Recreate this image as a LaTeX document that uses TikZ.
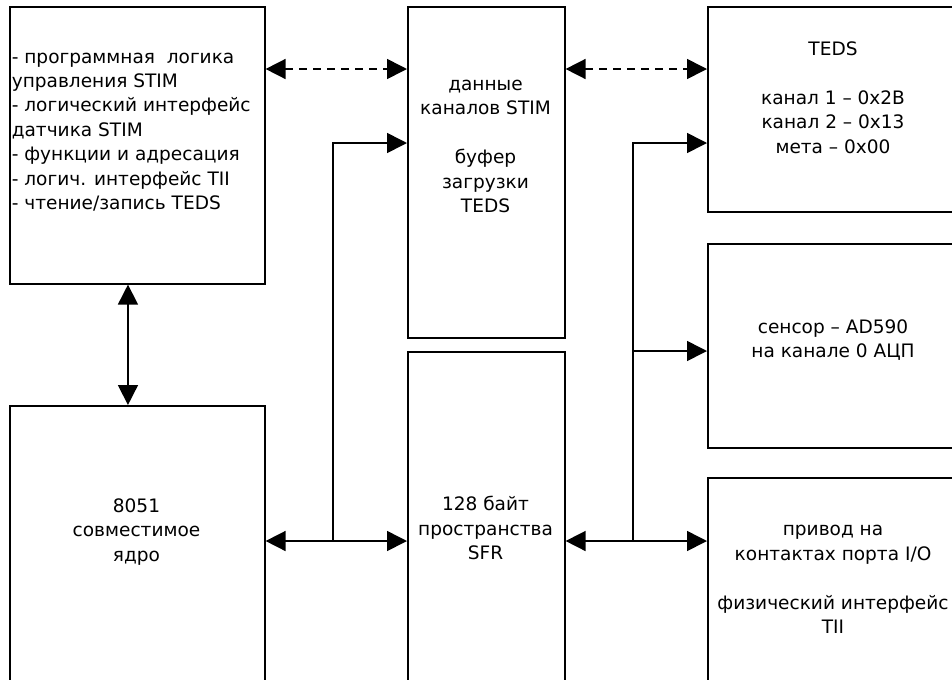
\documentclass[tikz,border=0pt]{standalone}
\usepackage{fontspec}
\setmainfont{DejaVu Sans}
\usetikzlibrary{arrows.meta,calc}

\begin{document}
\begin{tikzpicture}[x=0.75pt,y=-0.75pt,line width=1.2pt,
  blok/.style={draw, rectangle, anchor=north west, inner sep=0pt},
  txt/.style={align=center, font=\fontsize{13.9}{18.3}\selectfont, inner sep=0pt},
  >={Triangle[length=15pt,width=15pt]}]
\useasboundingbox (0,0) rectangle (952,679);
\clip (0,0) rectangle (952,679);
\foreach \n/\x/\y/\w/\h in {stim/9/6/191.25/207.75, core/9/405/191.25/225,
  chan/407/6/117.75/248.25, sfr/407/351/117.75/262.5,
  teds/707/6/195/153.75, sens/707/243/195/153, port/707/477/195/187.5}{
\node[blok, minimum width=\w pt, minimum height=\h pt] (\n) at (\x,\y) {};}
\node[txt, align=left, anchor=west] (stimtxt) at (11,132) {- программная\ \ логика\\управления STIM\\- логический интерфейс\\датчика STIM\\- функции и адресация\\- логич. интерфейс TII\\- чтение/запись TEDS};
\node[txt] (coretxt) at (136.5,532) {8051\\совместимое\\ядро};
\node[txt] (chantxt) at (485.5,146.5) {данные\\каналов STIM\\[18.3pt]буфер\\загрузки\\TEDS};
\node[txt] (sfrtxt) at (485.5,528) {128 байт\\пространства\\SFR};
\node[txt] (tedstxt) at (833,97.5) {TEDS\\[18.3pt]канал 1 – 0x2B\\канал 2 – 0x13\\мета – 0x00};
\node[txt] (senstxt) at (833,340) {сенсор – AD590\\на канале 0 АЦП};
\node[txt] (porttxt) at (833,579.5) {привод на\\контактах порта I/O\\[18.3pt]физический интерфейс\\TII};
\coordinate (topbus) at (0,69);
\coordinate (upbus) at (0,143);
\coordinate (midbus) at (0,351);
\coordinate (lowbus) at (0,541);
\coordinate (lj) at (333,541);
\coordinate (rj) at (633,541);
\draw[<->, dash pattern=on 6pt off 4.5pt] (stim.east |- topbus) -- (chan.west |- topbus);
\draw[<->, dash pattern=on 6pt off 4.5pt] (chan.east |- topbus) -- (teds.west |- topbus);
\draw[<->] ([xshift=-7pt]stim.south) -- ([xshift=-7pt]core.north);
\draw[<->] (core.east |- lowbus) -- (sfr.west |- lowbus);
\draw[->] (lj) |- (chan.west |- upbus);
\draw[<->] (sfr.east |- lowbus) -- (port.west |- lowbus);
\draw[->] (rj) |- (teds.west |- upbus);
\draw[->] (rj |- midbus) -- (sens.west |- midbus);
\end{tikzpicture}
\end{document}
